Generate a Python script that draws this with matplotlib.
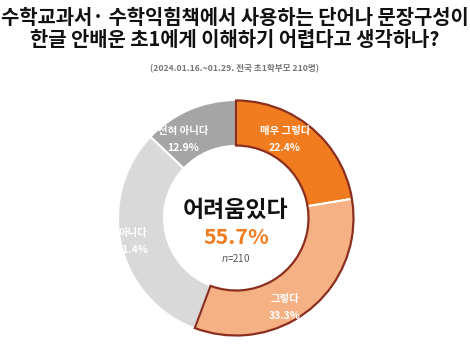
import matplotlib.pyplot as plt
from matplotlib.patches import Wedge

plt.rcParams['font.family'] = ['Noto Sans CJK KR', 'DejaVu Sans']

labels = ['매우 그렇다', '그렇다', '아니다', '전혀 아니다']
values = [22.4, 33.3, 31.4, 12.9]
colors = ['#F07C1F', '#F5B183', '#D9D9D9', '#A5A5A5']
label_pos = [(285, 131), (285, 299), (133, 233), (183, 131)]
total_hard = 55.7

fig = plt.figure(figsize=(4.7, 3.52), dpi=100)
ax = fig.add_axes([0, 0, 1, 1])

cx, cy, r, w = 236, 218, 118, 46

ax.pie(values, colors=colors, startangle=90, counterclock=False,
       center=(cx, 352 - cy), radius=r, frame=True,
       wedgeprops=dict(width=w, edgecolor='white', linewidth=1.5))
ax.set_xlim(0, 470)
ax.set_ylim(0, 352)
ax.set_aspect('equal')
ax.axis('off')

# outline for the "어려움있다" group
ax.add_patch(Wedge((cx, 352 - cy), r - 0.5, 90 - total_hard * 3.6, 90, width=w - 1,
                   facecolor='none', edgecolor='#8B2E1E', linewidth=1.6, zorder=3))

for (x, y), lab, v in zip(label_pos, labels, values):
    ax.text(x, 352 - y, lab, ha='center', va='center', color='white',
            fontsize=7.5, fontweight='bold', zorder=10)
    ax.text(x, 352 - y - 17, f'{v}%', ha='center', va='center', color='white',
            fontsize=7.5, fontweight='bold', zorder=10)

ax.text(cx, 352 - 210, '어려움있다', ha='center', va='center', fontsize=16.5,
        fontweight='bold', color='#111111', zorder=10)
ax.text(cx, 352 - 238, f'{total_hard}%', ha='center', va='center', fontsize=15.5,
        fontweight='bold', color='#F07C1F', zorder=10)
ax.text(cx, 352 - 258, '$n$=210', ha='center', va='center', fontsize=7,
        color='#555555', zorder=10)

fig.text(0.5, 1 - 17 / 352, '수학교과서· 수학익힘책에서 사용하는 단어나 문장구성이',
         ha='center', va='center', fontsize=14.3, fontweight='bold', color='#111111')
fig.text(0.5, 1 - 40 / 352, '한글 안배운 초1에게 이해하기 어렵다고 생각하나?',
         ha='center', va='center', fontsize=14.3, fontweight='bold', color='#111111')
fig.text(0.5, 1 - 69 / 352, '(2024.01.16.~01.29. 전국 초1학부모 210명)',
         ha='center', va='center', fontsize=6.2, fontweight='bold', color='#777777')

fig.savefig('out.png', dpi=100)
